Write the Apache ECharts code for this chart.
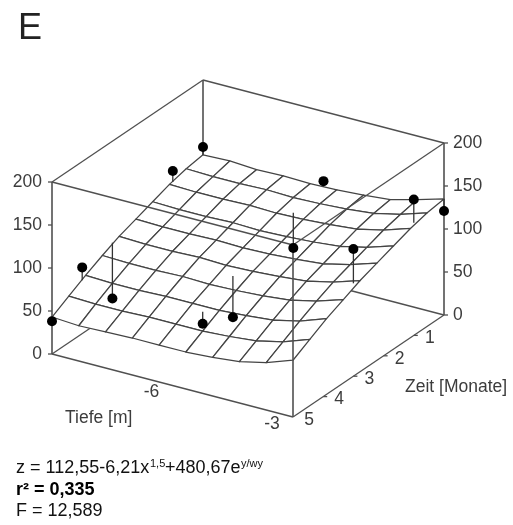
<!DOCTYPE html>
<html><head><meta charset="utf-8">
<style>html,body{margin:0;padding:0;background:#fff}#c{width:513px;height:525px}</style>
<script src="https://cdn.jsdelivr.net/npm/echarts@6/dist/echarts.min.js"></script>
</head><body><div id="c"></div>
<script>
// Surface values (z) on a 10x10 mesh: one array per Zeit row, back to front
var zRow0=[113,114,112,113,112,113,115,118,126,135];
var zRow1=[110,109,109,110,109,110,112,115,122,132];
var zRow2=[105,104,104,105,104,105,107,110,117,127];
var zRow3=[98,97,97,98,97,98,100,103,110,120];
var zRow4=[91,90,90,91,90,91,93,96,103,113];
var zRow5=[84,83,83,84,83,84,86,89,96,106];
var zRow6=[75,74,74,75,74,75,77,80,87,97];
var zRow7=[65,64,64,65,65,65,67,70,77,88];
var zRow8=[54,53,53,54,54,54,56,59,66,77];
var zRow9=[43,41,42,43,43,43,45,48,55,66];
var surfaceRows=[zRow0,zRow1,zRow2,zRow3,zRow4,zRow5,zRow6,zRow7,zRow8,zRow9];
var meshTiefe=[-9,-8.333,-7.667,-7,-6.333,-5.667,-5,-4.333,-3.667,-3];
var meshZeit=[0,0.556,1.111,1.667,2.222,2.778,3.333,3.889,4.444,5];
// Measured points: Tiefe, Zeit, z, and the surface height under each
var pointTiefe=[-9,-9,-9,-9,-9,-6,-6,-6,-6,-3,-3,-3];
var pointZeit=[5,4,3,1,0,4,3,1,0,3,1,0];
var pointZ=[38,77,17,118,122,48,32,65,119,148,158,121];
var pointSurface=[43,62,82,105,113,62,80,106,113,108,131,135];
// Tick labels
var zTicks=[0,50,100,150,200];
var zeitTicks=[1,2,3,4,5];
var tiefeTicks=[-6,-3];

var P={ox:52,oy:354,tx:241,ty:63,mx:151,my:102,zs:0.86};
function project(t,m,z){
  var a=(t+9)/6,b=(5-m)/5;
  return [P.ox+a*P.tx+b*P.mx, P.oy+a*P.ty-b*P.my-z*P.zs];
}
var LINE='#444',FRAME='#505050',TXT='#3c3c3c',FONT='"Liberation Sans",Arial,sans-serif',TICKFONT='17.5px '+FONT,NOTE='18px '+FONT,SUP='11px '+FONT;

function lineItem(api,a,b,color,w){
  var p=api.coord(a),q=api.coord(b);
  return {type:'line',shape:{x1:p[0],y1:p[1],x2:q[0],y2:q[1]},style:{stroke:color,lineWidth:w}};
}
function textItem(api,pos,dx,dy,s,align){
  var p=api.coord(pos);
  return {type:'text',style:{x:p[0]+dx,y:p[1]+dy,text:String(s),fill:TXT,font:TICKFONT,align:align||'center',verticalAlign:'middle'}};
}
function frameSeries(z,edges){
  return {type:'custom',coordinateSystem:'cartesian2d',silent:true,z:z,animation:false,clip:false,
    data:edges.map(function(e,i){return [i];}),
    encode:{x:0,y:0},
    renderItem:function(params,api){
      var e=edges[params.dataIndex];
      return lineItem(api,project.apply(null,e[0]),project.apply(null,e[1]),FRAME,e[2]||1.3);
    }};
}
var L0=[-9,5,0],F0=[-3,5,0],R0=[-3,0,0],B0=[-9,0,0],L2=[-9,5,200],F2=[-3,5,200],R2=[-3,0,200],B2=[-9,0,200];
var backEdges=[[L0,B0],[B0,R0],[B0,B2,1.6],[L2,B2],[B2,R2]];
var frontEdges=[[L0,F0],[F0,R0],[L0,L2,1.6],[R0,R2,1.6],[L2,F2],[R2,F2],[F0,F2,1.6]];

var cells=[];
for(var i=0;i<9;i++)for(var j=0;j<9;j++)cells.push([i,j]);

var dropIdx=pointZ.map(function(v,i){return [i];});
var scatterData=pointZ.map(function(v,i){return project(pointTiefe[i],pointZeit[i],v);});

var labelData=[];
zTicks.forEach(function(v){labelData.push(['zl',v]);labelData.push(['zr',v]);});
zeitTicks.forEach(function(v){labelData.push(['m',v]);});
tiefeTicks.forEach(function(v){labelData.push(['t',v]);});

var option={
  animation:false,
  backgroundColor:'#fff',
  grid:{left:0,right:0,top:0,bottom:0},
  xAxis:{type:'value',min:0,max:513,show:false},
  yAxis:{type:'value',min:0,max:525,inverse:true,show:false},
  series:[
    frameSeries(1,backEdges),
    {type:'custom',coordinateSystem:'cartesian2d',silent:true,z:2,clip:false,
      data:cells,encode:{x:0,y:1},
      renderItem:function(params,api){
        var c=cells[params.dataIndex],i=c[0],j=c[1];
        var pts=[[i,j],[i,j+1],[i+1,j+1],[i+1,j]].map(function(v){
          return api.coord(project(meshTiefe[v[1]],meshZeit[v[0]],surfaceRows[v[0]][v[1]]));
        });
        return {type:'polygon',shape:{points:pts},style:{fill:'#fff',stroke:LINE,lineWidth:1.25,lineJoin:'round'}};
      }},
    frameSeries(3,frontEdges),
    {type:'custom',coordinateSystem:'cartesian2d',silent:true,z:4,clip:false,
      data:dropIdx,encode:{x:0,y:0},
      renderItem:function(params,api){
        var k=params.dataIndex;
        return lineItem(api,project(pointTiefe[k],pointZeit[k],pointZ[k]),project(pointTiefe[k],pointZeit[k],pointSurface[k]),'#333',1.3);
      }},
    {type:'scatter',z:5,silent:true,symbol:'circle',symbolSize:10,clip:false,
      itemStyle:{color:'#000',opacity:1},data:scatterData},
    {type:'custom',coordinateSystem:'cartesian2d',silent:true,z:6,clip:false,
      data:labelData.map(function(d,i){return [i];}),encode:{x:0,y:0},
      renderItem:function(params,api){
        var d=labelData[params.dataIndex],k=d[0],v=d[1],kids=[];
        if(k==='zl'){var a=project(-9,5,v);
          var p=api.coord(a);
          kids.push({type:'line',shape:{x1:p[0]-4,y1:p[1],x2:p[0],y2:p[1]},style:{stroke:FRAME,lineWidth:1.3}});
          kids.push(textItem(api,a,-10,0,v,'right'));}
        if(k==='zr'){var a2=project(-3,0,v),p2=api.coord(a2);
          kids.push({type:'line',shape:{x1:p2[0],y1:p2[1],x2:p2[0]+4,y2:p2[1]},style:{stroke:FRAME,lineWidth:1.3}});
          kids.push(textItem(api,a2,9,0,v,'left'));}
        if(k==='m'){var a3=project(-3,v,0),p3=api.coord(a3);
          if(v<5)kids.push({type:'line',shape:{x1:p3[0],y1:p3[1],x2:p3[0]+4,y2:p3[1]},style:{stroke:FRAME,lineWidth:1.3}});
          kids.push(textItem(api,a3,16,3,v,'center'));}
        if(k==='t'){var a4=project(v,5,0);
          kids.push(textItem(api,a4,-21,7,v,'center'));}
        return {type:'group',children:kids};
      }}
  ],
  graphic:[
    {type:'text',x:18,y:29,style:{text:'E',fill:'#222',font:'36px '+FONT,verticalAlign:'middle'}},
    {type:'text',x:405,y:387,style:{text:'Zeit [Monate]',fill:TXT,font:TICKFONT,verticalAlign:'middle'}},
    {type:'text',x:65,y:418,style:{text:'Tiefe [m]',fill:TXT,font:TICKFONT,verticalAlign:'middle'}},
    {type:'text',x:16,y:468,style:{text:'z = 112,55-6,21x',fill:'#111',font:NOTE,verticalAlign:'middle'}},
    {type:'text',x:150,y:464,style:{text:'1,5',fill:'#111',font:SUP,verticalAlign:'middle'}},
    {type:'text',x:165,y:468,style:{text:'+480,67e',fill:'#111',font:NOTE,verticalAlign:'middle'}},
    {type:'text',x:241,y:464,style:{text:'y/wy',fill:'#111',font:SUP,verticalAlign:'middle'}},
    {type:'text',x:16,y:490,style:{text:'r² = 0,335',fill:'#000',font:'bold 18px '+FONT,verticalAlign:'middle'}},
    {type:'text',x:16,y:511,style:{text:'F = 12,589',fill:'#111',font:NOTE,verticalAlign:'middle'}}
  ]
};
var chart=echarts.init(document.getElementById('c'),null,{renderer:'canvas'});
chart.setOption(option);
</script></body></html>
